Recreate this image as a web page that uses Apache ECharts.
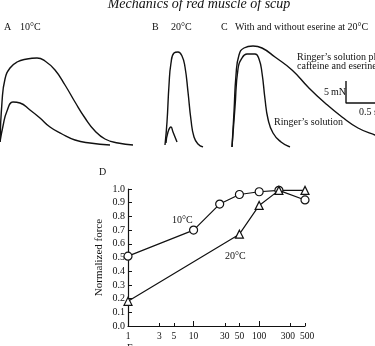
<!DOCTYPE html>
<html>
<head>
<meta charset="utf-8">
<script src="https://cdn.jsdelivr.net/npm/echarts@6/dist/echarts.min.js"></script>
<style>
  html, body { margin: 0; padding: 0; background: #fff; }
  #chart { width: 375px; height: 346px; }
</style>
</head>
<body>
<div id="chart"></div>
<script>
// force traces (time in arbitrary units, force in arbitrary units above baseline)
const traceA10 = [[0, 5], [2, 45], [5, 68], [10, 79], [17, 85], [27, 88], [37, 89], [45, 86], [55, 77], [65, 62], [75, 45], [85, 29], [95, 16], [105, 8], [118, 4], [133, 2]];
const traceA10small = [[0, 5], [3, 21], [7, 36], [13, 45], [20, 44], [30, 37], [40, 29], [50, 20], [62, 13], [75, 7], [90, 4], [110, 2]];
const traceB20 = [[165, 2], [167, 25], [169, 62], [171, 84], [174, 94], [178, 95], [182, 91], [185, 80], [188, 55], [191, 27], [194, 10], [198, 3], [203, 0]];
const traceB20small = [[166, 4], [168, 15], [171, 20], [173, 15], [177, 5]];
const traceCcaff = [[232, 0], [234, 35], [236, 72], [239, 92], [244, 99], [253, 101], [262, 99], [275, 90], [292, 77], [308, 60], [325, 44], [342, 30], [358, 19], [375, 12], [385, 9]];
const traceCringer = [[232, 0], [235, 40], [238, 78], [242, 89], [247, 93], [255, 93], [259, 88], [262, 74], [265, 48], [268, 28], [273, 14], [281, 5], [290, 0]];
const scaleBar = [[346, 66], [346, 44], [390, 44]];

// panel D
const freqs10 = [1, 10, 25, 50, 100, 200, 500];
const force10 = [0.51, 0.70, 0.89, 0.96, 0.98, 0.99, 0.92];
const freqs20 = [1, 50, 100, 200, 500];
const force20 = [0.18, 0.67, 0.88, 0.99, 0.99];
const freqTicks = [1, 3, 5, 10, 30, 50, 100, 300, 500];
const majorTicks = [10, 100];

const serif = 'Liberation Serif';
const lg = v => Math.log10(v);

const chart = echarts.init(document.getElementById('chart'));

function trace(data) {
    return {
        type: 'line', xAxisIndex: 0, yAxisIndex: 0, data: data,
        showSymbol: false, smooth: 0.5,
        lineStyle: {color: '#111', width: 1.4}, silent: true
    };
}

function txt(text, x, y, size, opts) {
    return {
        type: 'text', x: x, y: y, silent: true,
        style: Object.assign({text: text, font: size + 'px ' + serif, fill: '#111',
            textAlign: 'left', textVerticalAlign: 'middle'}, opts || {})
    };
}

function freqLabel(v) {
    const f = Math.round(Math.pow(10, v));
    if (f === 300) return '{l|' + f + '}';
    if (f === 500) return '{r|' + f + '}';
    return String(f);
}

const option = {
    backgroundColor: '#fff',
    animation: false,
    grid: [
        {left: 0, right: 0, top: 40, height: 107},
        {left: 128, top: 189, width: 177, height: 137}
    ],
    xAxis: [
        {gridIndex: 0, type: 'value', min: 0, max: 375, show: false},
        {
            gridIndex: 1, type: 'value', min: 0, max: lg(500), position: 'bottom',
            axisLine: {lineStyle: {color: '#111', width: 1.2}},
            axisTick: {inside: true, length: 3, lineStyle: {color: '#111'}, customValues: freqTicks.map(lg)},
            axisLabel: {
                customValues: freqTicks.map(lg), hideOverlap: false, margin: 5,
                showMinLabel: true, showMaxLabel: true,
                fontFamily: serif, fontSize: 9.5, color: '#111',
                formatter: freqLabel,
                rich: {
                    l: {fontFamily: serif, fontSize: 9.5, color: '#111', padding: [0, 5, 0, 0]},
                    r: {fontFamily: serif, fontSize: 9.5, color: '#111', padding: [0, 0, 0, 4]}
                }
            },
            splitLine: {show: false}
        },
        {
            gridIndex: 1, type: 'value', min: 0, max: lg(500), position: 'bottom',
            axisLine: {show: false},
            axisTick: {inside: true, length: 5, lineStyle: {color: '#111'}, customValues: majorTicks.map(lg)},
            axisLabel: {show: false},
            splitLine: {show: false}
        }
    ],
    yAxis: [
        {gridIndex: 0, type: 'value', min: 0, max: 107, show: false},
        {
            gridIndex: 1, type: 'value', min: 0, max: 1, interval: 0.1,
            name: 'Normalized force', nameLocation: 'middle', nameGap: 23,
            nameTextStyle: {fontFamily: serif, fontSize: 11, color: '#111'},
            axisLine: {show: true, lineStyle: {color: '#111', width: 1.2}},
            axisTick: {show: true, inside: true, length: 4, lineStyle: {color: '#111'}},
            axisLabel: {fontFamily: serif, fontSize: 10, color: '#111', margin: 3,
                formatter: v => v.toFixed(1)},
            splitLine: {show: false}
        }
    ],
    series: [
        trace(traceA10), trace(traceA10small),
        trace(traceB20), trace(traceB20small),
        trace(traceCcaff), trace(traceCringer),
        {
            type: 'line', xAxisIndex: 0, yAxisIndex: 0, data: scaleBar,
            showSymbol: false, lineStyle: {color: '#111', width: 1.4}, silent: true
        },
        {
            type: 'line', xAxisIndex: 1, yAxisIndex: 1,
            data: freqs10.map((f, i) => [lg(f), force10[i]]),
            symbol: 'circle', symbolSize: 8,
            itemStyle: {color: '#fff', borderColor: '#111', borderWidth: 1.2},
            lineStyle: {color: '#111', width: 1.2}, z: 3
        },
        {
            type: 'line', xAxisIndex: 1, yAxisIndex: 1,
            data: freqs20.map((f, i) => [lg(f), force20[i]]),
            symbol: 'triangle', symbolSize: 8,
            itemStyle: {color: '#fff', borderColor: '#111', borderWidth: 1.2},
            lineStyle: {color: '#111', width: 1.2}, z: 3
        }
    ],
    graphic: [
        txt('Mechanics of red muscle of scup', 199, 11, 14,
            {font: 'italic 14px ' + serif, textAlign: 'center', textVerticalAlign: 'bottom'}),
        txt('A', 4, 27, 10),
        txt('10\u00B0C', 20, 27, 10),
        txt('B', 152, 27, 10),
        txt('20\u00B0C', 171, 27, 10),
        txt('C', 221, 27, 10),
        txt('With and without eserine at 20\u00B0C', 235, 27, 10),
        txt('Ringer\u2019s solution plus', 297, 57, 10),
        txt('caffeine and eserine', 297, 66, 10),
        txt('5\u2009mN', 324, 92, 10),
        txt('0.5 s', 359, 112, 10),
        txt('Ringer\u2019s solution', 274, 122, 10),
        txt('D', 99, 172, 10),
        txt('10\u00B0C', 172, 220, 10),
        txt('20\u00B0C', 225, 256, 10),
        txt('F', 127, 343, 10, {textVerticalAlign: 'top'})
    ]
};

chart.setOption(option);
</script>
</body>
</html>
